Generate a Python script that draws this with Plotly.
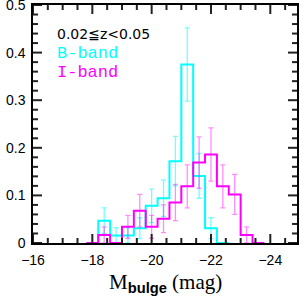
import plotly.graph_objects as go

# ---- data ----
bin_width = 0.4
b_centers = [-18.0, -18.4, -18.8, -19.2, -19.6, -20.0, -20.4, -20.8, -21.2, -21.6, -22.0, -22.4]
b_frac    = [0.0, 0.047, 0.016, 0.016, 0.031, 0.078, 0.094, 0.172, 0.375, 0.141, 0.031, 0.0]
b_err     = [0.0, 0.027, 0.016, 0.016, 0.022, 0.035, 0.038, 0.052, 0.077, 0.047, 0.022, 0.0]

i_centers = [-18.0, -18.4, -18.8, -19.2, -19.6, -20.0, -20.4, -20.8, -21.2, -21.6, -22.0, -22.4, -22.8, -23.2, -23.6]
i_frac    = [0.0, 0.017, 0.0, 0.034, 0.068, 0.034, 0.051, 0.085, 0.119, 0.169, 0.186, 0.119, 0.102, 0.017, 0.0]
i_err     = [0.0, 0.017, 0.0, 0.024, 0.034, 0.024, 0.029, 0.038, 0.045, 0.054, 0.056, 0.045, 0.042, 0.017, 0.0]

x_ticks = [-16, -18, -20, -22, -24]
x_ticktext = ["\u221216", "\u221218", "\u221220", "\u221222", "\u221224"]
y_ticks = [0, 0.1, 0.2, 0.3, 0.4, 0.5]
y_ticktext = ["0", "0.1", "0.2", "0.3", "0.4", "0.5"]
x_minor_step = 0.5
y_minor_step = 0.02

X_RANGE = [-16, -24.9]
Y_RANGE = [0, 0.5]

W, H = 300, 304
MARGIN = dict(l=33, r=3, t=5, b=61)

CYAN = "#00FFFF"
MAGENTA = "#FF00FF"


def step_xy(centers, vals, w):
    xs = [centers[0] + w / 2] + [c - w / 2 for c in centers]
    ys = list(vals) + [vals[-1]]
    return xs, ys


fig = go.Figure()


def add_hist(centers, frac, err, color, rgba):
    ec = [c for c, e in zip(centers, err) if e > 0]
    ev = [v for v, e in zip(frac, err) if e > 0]
    ee = [e for e in err if e > 0]
    fig.add_trace(go.Scatter(
        x=ec, y=ev, mode="markers", marker=dict(size=0.1, color=rgba, opacity=0),
        error_y=dict(type="data", array=ee, visible=True, color=rgba, thickness=1.3, width=2.5),
        showlegend=False, hoverinfo="skip"))
    xs, ys = step_xy(centers, frac, bin_width)
    fig.add_trace(go.Scatter(x=xs, y=ys, mode="lines", line=dict(color=color, width=2, shape="hv"),
                             showlegend=False, hoverinfo="skip"))


add_hist(b_centers, b_frac, b_err, CYAN, "rgba(0,255,255,0.55)")
add_hist(i_centers, i_frac, i_err, MAGENTA, "rgba(255,0,255,0.45)")

# ---- inside tick marks on all four sides (line segments in axis units) ----
px_w = W - MARGIN["l"] - MARGIN["r"]
px_h = H - MARGIN["t"] - MARGIN["b"]
x_per_px = (X_RANGE[1] - X_RANGE[0]) / px_w
y_per_px = (Y_RANGE[1] - Y_RANGE[0]) / px_h


def tick_values(lo, hi, step):
    n = int(round(abs(hi - lo) / step))
    sgn = 1 if hi > lo else -1
    return [lo + sgn * k * step for k in range(n + 1)]


def is_major(v, majors):
    return any(abs(v - t) < 1e-6 for t in majors)


tx, ty = [], []
for v in tick_values(X_RANGE[0], X_RANGE[1], x_minor_step):
    L = (9 if is_major(v, x_ticks) else 5) * y_per_px
    tx += [v, v, None, v, v, None]
    ty += [Y_RANGE[0], Y_RANGE[0] + L, None, Y_RANGE[1], Y_RANGE[1] - L, None]
for v in tick_values(Y_RANGE[0], Y_RANGE[1], y_minor_step):
    L = (9 if is_major(v, y_ticks) else 5) * x_per_px
    tx += [X_RANGE[0], X_RANGE[0] + L, None, X_RANGE[1], X_RANGE[1] - L, None]
    ty += [v, v, None, v, v, None]

fig.add_trace(go.Scatter(x=tx, y=ty, mode="lines", line=dict(color="#222222", width=2),
                         connectgaps=False, cliponaxis=False, showlegend=False, hoverinfo="skip"))

tick_font = dict(family="Liberation Sans, Arial, sans-serif", size=14, color="black")

common = dict(ticks="", showline=True, linecolor="black", linewidth=1.5,
              mirror=True, showgrid=False, zeroline=False, automargin=False)

fig.update_layout(
    template="none",
    width=W, height=H, margin=dict(**MARGIN, autoexpand=False),
    paper_bgcolor="white", plot_bgcolor="white", showlegend=False,
    xaxis=dict(range=X_RANGE, tickmode="array", tickvals=x_ticks, ticktext=x_ticktext,
               tickfont=tick_font, ticklabeloverflow="allow", ticklabelstandoff=3, **common),
    yaxis=dict(range=Y_RANGE, tickmode="array", tickvals=y_ticks, ticktext=y_ticktext,
               tickfont=tick_font, ticklabeloverflow="allow", ticklabelstandoff=3, **common),
)

annots = [
    dict(text="0.02\u2266z<0.05", x=0.083, y=0.880,
         font=dict(family="DejaVu Sans, sans-serif", size=14, color="black")),
    dict(text="B-band", x=0.083, y=0.798,
         font=dict(family="Liberation Mono, Courier New, monospace", size=17, color=CYAN)),
    dict(text="I-band", x=0.083, y=0.718,
         font=dict(family="Liberation Mono, Courier New, monospace", size=17, color=MAGENTA)),
]
for a in annots:
    fig.add_annotation(text=a["text"], x=a["x"], y=a["y"], xref="paper", yref="paper",
                       xanchor="left", yanchor="middle", showarrow=False, font=a["font"])

fig.add_annotation(
    text='M<sub><span style="font-family:Liberation Sans;font-weight:bold">bulge</span></sub> (mag)',
    x=0.5, y=-0.168, xref="paper", yref="paper", xanchor="center", yanchor="middle",
    showarrow=False, font=dict(family="Liberation Serif, Times New Roman, serif", size=21, color="black"))

fig.write_html("out.html", config={"displayModeBar": False},
               post_script="document.body.style.margin='0px';")
